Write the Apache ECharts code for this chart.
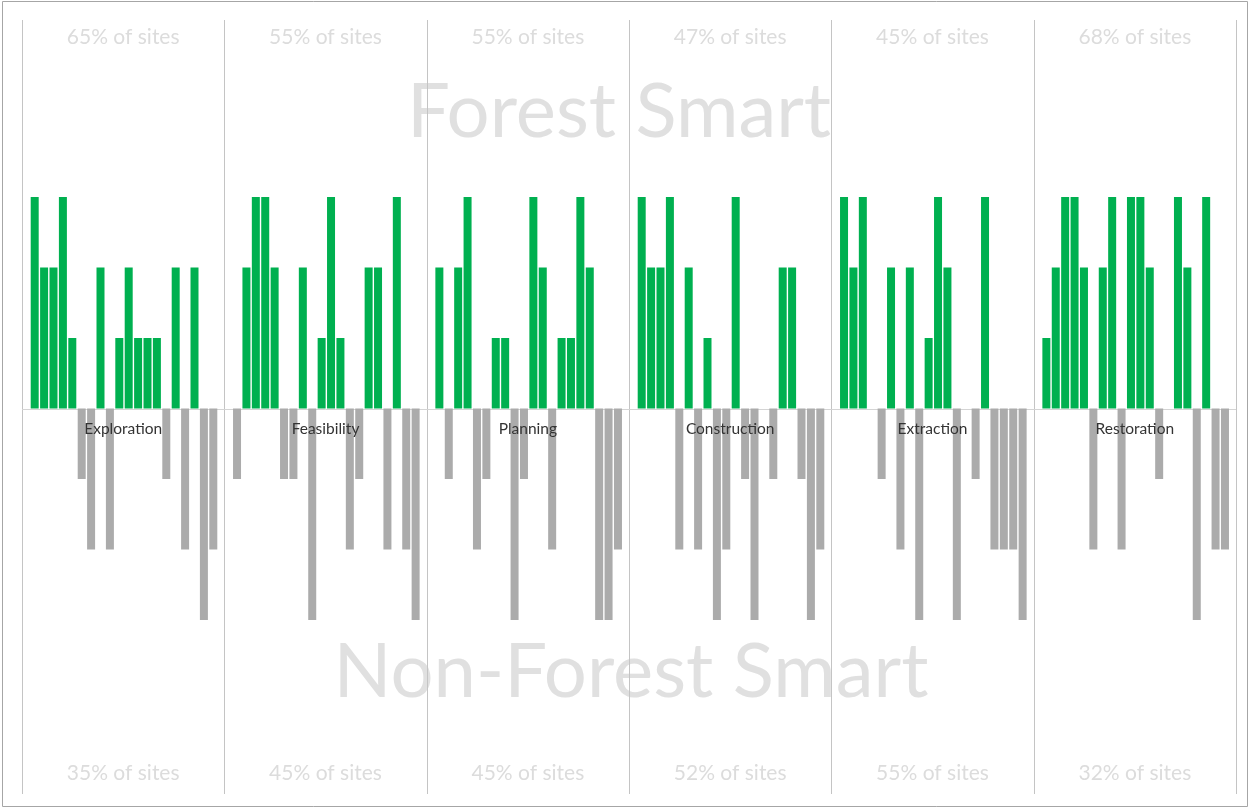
<!DOCTYPE html>
<html>
<head>
<meta charset="utf-8">
<script src="https://cdn.jsdelivr.net/npm/echarts@6/dist/echarts.min.js"></script>
<style>
html,body{margin:0;padding:0;background:#fff;}
#c{width:1250px;height:809px;}
</style>
</head>
<body>
<div id="c"></div>
<script>
var phases = ['Exploration','Feasibility','Planning','Construction','Extraction','Restoration'];
var topLabels = ['65% of sites','55% of sites','55% of sites','47% of sites','45% of sites','68% of sites'];
var bottomLabels = ['35% of sites','45% of sites','45% of sites','52% of sites','55% of sites','32% of sites'];
var sites = ['1','2','3','4','5','6','7','8','9','10','11','12','13','14','15','16','17','18','19','20'];
var exploration  = [3,2,2,3,1,-1,-2,2,-2,1,2,1,1,1,-1,2,-2,2,-3,-2];
var feasibility  = [-1,2,3,3,2,-1,-1,2,-3,1,3,1,-2,-1,2,2,-2,3,-2,-3];
var planning     = [2,-1,2,3,-2,-1,1,1,-3,-1,3,2,-2,1,1,3,2,-3,-3,-2];
var construction = [3,2,2,3,-2,2,-2,1,-3,-2,3,-1,-3,0,-1,2,2,-1,-3,-2];
var extraction   = [3,2,3,0,-1,2,-2,2,-3,1,3,2,-3,0,-1,3,-2,-2,-2,-3];
var restoration  = [1,2,3,3,2,-2,2,3,-2,3,3,2,-1,0,3,2,-3,3,-2,-2];
var seriesData = [exploration, feasibility, planning, construction, extraction, restoration];

var chart = echarts.init(document.getElementById('c'), null, {renderer:'canvas'});

// layout
var panelStart = 22, panelEnd = 1236;
var panelW = (panelEnd - panelStart) / 6;
var gridTop = 197, gridH = 423;
var baseY = gridTop + gridH / 2;
var FONT = 'Lato, "Open Sans", sans-serif';

var grids = [], xAxes = [], yAxes = [], series = [], graphics = [];
for (var i = 0; i < 6; i++) {
  var pl = panelStart + i * panelW;
  grids.push({left: pl + 8, top: gridTop, width: 188, height: gridH});
  xAxes.push({type:'category', gridIndex:i, data:sites, show:false, boundaryGap:true});
  yAxes.push({type:'value', gridIndex:i, min:-3, max:3, show:false});
  series.push({
    type:'bar', xAxisIndex:i, yAxisIndex:i, data:seriesData[i], barWidth:8,
    itemStyle:{color:function(p){return p.value >= 0 ? '#00B050' : '#ABABAB';}},
    silent:true, animation:false, z:3
  });
  var cx = pl + panelW / 2;
  graphics.push({type:'text', x:cx, y:37, z:1, style:{text:topLabels[i], font:'21px ' + FONT, fill:'#dcdcdc', textAlign:'center', textVerticalAlign:'middle'}});
  graphics.push({type:'text', x:cx, y:773, z:1, style:{text:bottomLabels[i], font:'21px ' + FONT, fill:'#dcdcdc', textAlign:'center', textVerticalAlign:'middle'}});
  graphics.push({type:'text', x:cx, y:429, z:10, style:{text:phases[i], font:'15.5px ' + FONT, fill:'#333333', textAlign:'center', textVerticalAlign:'middle'}});
}
for (var k = 0; k <= 6; k++) {
  var lx = Math.round(panelStart + k * panelW) + 0.5;
  graphics.push({type:'line', z:2, shape:{x1:lx, y1:20, x2:lx, y2:794}, style:{stroke:'#c4c4c4', lineWidth:1}});
}
graphics.push({type:'line', z:2, shape:{x1:panelStart, y1:Math.round(baseY)+0.5, x2:panelEnd, y2:Math.round(baseY)+0.5}, style:{stroke:'#d4d4d4', lineWidth:1}});
graphics.push({type:'text', x:619, y:112, z:1, style:{text:'Forest Smart', font:'76px ' + FONT, fill:'#e0e0e0', textAlign:'center', textVerticalAlign:'middle'}});
graphics.push({type:'text', x:631, y:672, z:1, style:{text:'Non-Forest Smart', font:'76px ' + FONT, fill:'#e0e0e0', textAlign:'center', textVerticalAlign:'middle'}});
graphics.push({type:'rect', z:0, shape:{x:2.5, y:1.5, width:1245, height:805}, style:{fill:'none', stroke:'#a6a6a6', lineWidth:1}});

chart.setOption({
  backgroundColor:'#ffffff',
  animation:false,
  grid:grids, xAxis:xAxes, yAxis:yAxes, series:series,
  graphic:{elements:graphics}
});
</script>
</body>
</html>
